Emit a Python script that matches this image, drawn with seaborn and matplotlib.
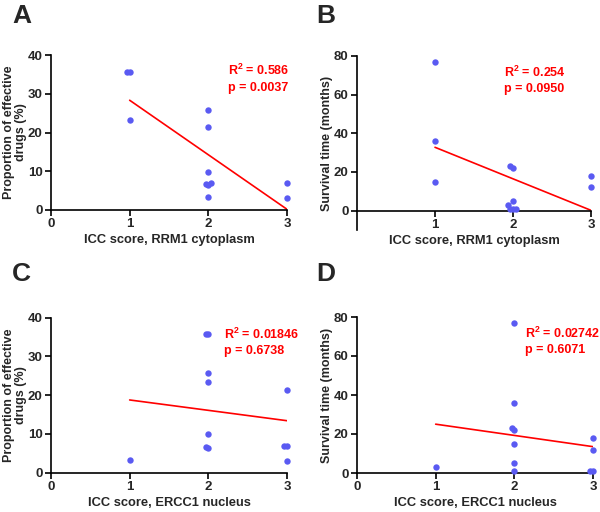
import matplotlib
matplotlib.use("Agg")
import matplotlib.pyplot as plt
import seaborn as sns
import numpy as np
import pandas as pd

# ---- data ----
rrm1_score = [1, 1, 1, 2, 2, 2, 2, 2, 2, 2, 3, 3]
prop_A = [35.7, 35.7, 23.3, 25.7, 21.3, 9.9, 6.5, 6.9, 6.6, 3.4, 7.0, 3.1]
surv_B = [77, 36, 15, 23, 22, 5, 3, 1, 1, 1, 18, 12]
ercc1_score = [1, 2, 2, 2, 2, 2, 2, 2, 3, 3, 3, 3]
prop_C = [3.4, 35.7, 35.7, 25.7, 23.3, 9.9, 6.6, 6.5, 21.3, 7.0, 6.9, 3.1]
surv_D = [3, 77, 36, 23, 22, 15, 5, 1, 18, 12, 1, 1]

letters = ["A", "B", "C", "D"]
xlabels = ["ICC score, RRM1 cytoplasm", "ICC score, RRM1 cytoplasm",
           "ICC score, ERCC1 nucleus", "ICC score, ERCC1 nucleus"]
ylabels = ["Proportion of effective\ndrugs (%)", "Survival time (months)",
           "Proportion of effective\ndrugs (%)", "Survival time (months)"]
stats = [("0.586", "0.0037"), ("0.254", "0.0950"),
         ("0.01846", "0.6738"), ("0.02742", "0.6071")]
yticks = [[0, 10, 20, 30, 40], [0, 20, 40, 60, 80],
          [0, 10, 20, 30, 40], [0, 20, 40, 60, 80]]

sns.set_theme(style="ticks")
plt.rcParams['font.family'] = ['Liberation Sans', 'DejaVu Sans']
plt.rcParams['font.weight'] = 'bold'
plt.rcParams['mathtext.fontset'] = 'custom'
plt.rcParams['mathtext.rm'] = 'Liberation Sans:bold'
plt.rcParams['mathtext.bf'] = 'Liberation Sans:bold'

fig = plt.figure(figsize=(6.0, 5.12), dpi=100)

W, H = 600, 512
def rect(l, r, t, b):
    return [l / W, 1 - b / H, (r - l) / W, (b - t) / H]

axes = [
    fig.add_axes(rect(51, 287, 55, 210)),
    fig.add_axes(rect(357, 591, 56, 230)),
    fig.add_axes(rect(51, 287, 317.7, 472.7)),
    fig.add_axes(rect(357, 593, 317, 473)),
]

datasets = [(rrm1_score, prop_A), (rrm1_score, surv_B),
            (ercc1_score, prop_C), (ercc1_score, surv_D)]
ylims = [(0, 40), (-10, 80), (0, 40), (0, 80)]
text_x = [0.75, 0.628, 0.733, 0.71]
text_y = [(0.871, 0.77), (0.878, 0.795), (0.861, 0.764), (0.867, 0.771)]

dot = "#5a5af2"
for i, ax in enumerate(axes):
    xs, ys = datasets[i]
    df = pd.DataFrame({"x": xs, "y": ys})
    sns.regplot(data=df, x="x", y="y", scatter=False, ci=None, ax=ax,
                line_kws=dict(color="#ff0000", lw=1.2), truncate=True)
    sns.swarmplot(data=df, x="x", y="y", native_scale=True, ax=ax,
                  color=dot, size=4.6, linewidth=0, zorder=3)
    ax.set_xlim(0, 3)
    ax.set_ylim(*ylims[i])
    ax.set_yticks(yticks[i])
    if i == 1:
        ax.set_xticks([1, 2, 3])
        ax.spines['bottom'].set_position(('data', 0))
    else:
        ax.set_xticks([0, 1, 2, 3])

# let seaborn compute the swarm layout once, then tighten the spread
fig.canvas.draw()
for ax in axes:
    for c in ax.collections:
        if 'draw' in c.__dict__:
            del c.draw
        c.set_clip_on(False)
        off = np.asarray(c.get_offsets(), dtype=float)
        if len(off):
            base = np.round(off[:, 0])
            off[:, 0] = base + (off[:, 0] - base) * 0.4
            c.set_offsets(off)

for i, ax in enumerate(axes):
    sns.despine(ax=ax)
    for s in ['left', 'bottom']:
        ax.spines[s].set_linewidth(1.2)
        ax.spines[s].set_color('black')
    ax.tick_params(axis='both', length=4, width=1.2, color='black',
                   labelsize=9.5, pad=2)
    for lab in ax.get_xticklabels() + ax.get_yticklabels():
        lab.set_fontweight('bold')
    ax.set_xlabel(xlabels[i], fontsize=9.3, fontweight='bold', labelpad=3)
    ax.set_ylabel(ylabels[i], fontsize=9, fontweight='bold',
                  labelpad=0.8, linespacing=1.0)
    r2, p = stats[i]
    ty1, ty2 = text_y[i]
    ax.text(text_x[i], ty1, "R$^{\\mathbf{2}}$ = " + r2,
            transform=ax.transAxes, color="#ff0000", fontsize=9,
            fontweight='bold', ha='left', va='baseline')
    ax.text(text_x[i], ty2, "p = " + p,
            transform=ax.transAxes, color="#ff0000", fontsize=9,
            fontweight='bold', ha='left', va='baseline')

fig.text(12 / W, 1 - 4 / H, "A", fontsize=19, fontweight='bold', va='top')
fig.text(316 / W, 1 - 4 / H, "B", fontsize=19, fontweight='bold', va='top')
fig.text(12 / W, 1 - 262 / H, "C", fontsize=19, fontweight='bold', va='top')
fig.text(316 / W, 1 - 262 / H, "D", fontsize=19, fontweight='bold', va='top')

fig.savefig("out.png", dpi=100)
